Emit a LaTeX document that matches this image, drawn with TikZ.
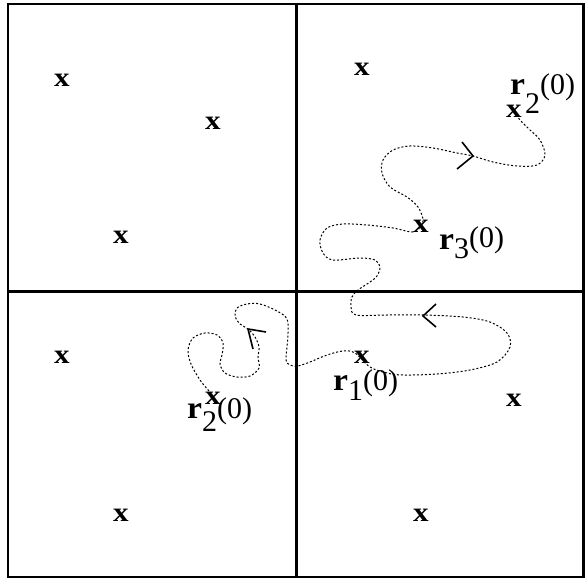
\documentclass[tikz,border=0pt]{standalone}
\usepackage{fontspec}
\setmainfont{Liberation Serif}
\newcommand\rlab[3]{\scalebox{1.12}[1.05]{\textbf{r}}\raisebox{-#1pt}{#3}\raisebox{#2pt}{(0)}}
\begin{document}
\begin{tikzpicture}[x=1pt,y=-1pt,
  frame/.style={line width=2.2pt},
  xmark/.style={font=\fontsize{27}{27}\selectfont\bfseries, inner sep=0pt},
  lab/.style={font=\fontsize{30}{30}\selectfont, inner sep=0pt, anchor=base west},
  traj/.style={line width=1pt, dash pattern=on 2pt off 2pt},
  tip/.style={line width=1.6pt, line join=miter}]
\useasboundingbox (0,0) rectangle (586,580);
% frame
\coordinate (nw) at (8,4);
\coordinate (se) at (583.5,577);
\coordinate (mt) at (296.5,4);
\coordinate (mb) at (296.5,577);
\coordinate (ml) at (8,291.5);
\coordinate (mr) at (583.5,291.5);
\draw[frame] (nw) rectangle (se);
\draw[frame] (mt) -- (mb);
\draw[frame] (ml) -- (mr);
% trajectory
\draw[traj] plot[smooth, tension=0.55] coordinates {
 (209,391) (200,380) (191,364) (188,350) (193,338) (205,333) (217,335)
 (223,343) (222,355) (220,364) (225,373) (237,377) (250,376) (259,368)
 (258,357) (259,347) (255,337) (248,329) (240,324) (235,316) (237,308)
 (247,304) (260,304) (277,311) (287,319) (288,333) (287,347) (286,357)
 (287,363) (293,366) (298,366) (310,362) (327,355) (343,351) (355,353)
 (370,367) (387,373) (403,375) (437,374) (470,370) (497,362) (510,347)
 (507,333) (490,322) (463,317) (423,315) (387,315) (356,315) (351,307)
 (352,297) (358,290) (370,282) (377,276) (380,267) (375,260) (360,258)
 (333,260) (323,253) (320,240) (327,228) (343,224) (367,225) (393,228)
 (413,232) (421,226) (423,219) (418,207) (407,197) (390,187) (382,173)
 (383,160) (393,150) (410,146) (433,148) (457,153) (473,156) (493,162)
 (517,166) (537,165) (545,155) (540,140) (530,130) (520,120) (516,114)};
% arrow heads
\draw[tip] (462,142) -- (473,156) -- (457,169);
\draw[tip] (436,304) -- (423,316) -- (436,327);
\draw[tip] (266,332) -- (248,329) -- (253,349);
% particles
\node[xmark] (a1) at (62,80) {\scalebox{1.15}[1]{x}};
\node[xmark] (a2) at (213,123) {\scalebox{1.15}[1]{x}};
\node[xmark] (a3) at (121,237) {\scalebox{1.15}[1]{x}};
\node[xmark] (b1) at (362,69) {\scalebox{1.15}[1]{x}};
\node[xmark] (b2) at (514,111) {\scalebox{1.15}[1]{x}};
\node[xmark] (b3) at (421,226) {\scalebox{1.15}[1]{x}};
\node[xmark] (c1) at (62,357) {\scalebox{1.15}[1]{x}};
\node[xmark] (c2) at (213,398) {\scalebox{1.15}[1]{x}};
\node[xmark] (c3) at (121,515) {\scalebox{1.15}[1]{x}};
\node[xmark] (d1) at (362,357) {\scalebox{1.15}[1]{x}};
\node[xmark] (d2) at (514,400) {\scalebox{1.15}[1]{x}};
\node[xmark] (d3) at (421,515) {\scalebox{1.15}[1]{x}};
% labels
\node[lab] (l1) at (333,390) {\rlab{10}{0}{1}};
\node[lab] (l2) at (187,418) {\rlab{13}{0}{2}};
\node[lab] (l2b) at (510,95) {\rlab{19}{0}{2}};
\node[lab] (l3) at (439,249) {\rlab{9}{2}{3}};
\end{tikzpicture}
\end{document}
